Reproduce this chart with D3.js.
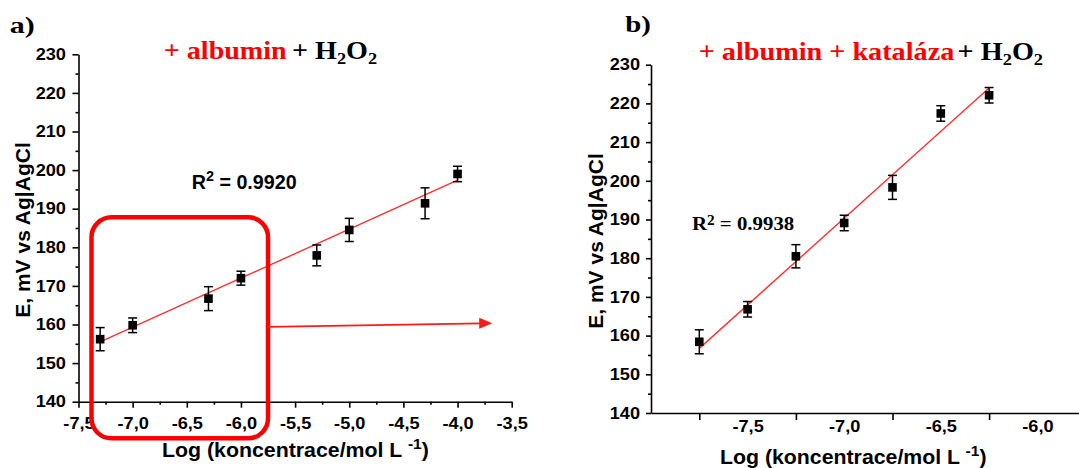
<!DOCTYPE html>
<html>
<head>
<meta charset="utf-8">
<script src="https://cdnjs.cloudflare.com/ajax/libs/d3/7.8.5/d3.min.js"></script>
<style>
  body { margin: 0; background: #fff; }
  svg { display: block; }
  .axis path, .axis line { stroke: #000; stroke-width: 1.6; }
  .axis text { font-family: "Liberation Sans", Arial, sans-serif; font-weight: bold; font-size: 16.5px; fill: #000; }
</style>
</head>
<body>
<div class="chart"></div>
<script>
// Panel a: albumin + H2O2
const concA = [-7.3, -7.0, -6.3, -6.0, -5.3, -5.0, -4.3, -4.0];
const potA = [156.2, 159.8, 166.7, 172.0, 177.9, 184.5, 191.4, 199.0];
const errA = [3.0, 1.9, 3.1, 1.8, 2.7, 3.0, 4.0, 2.0];
const fitConcA = [-7.3, -4.0];
const fitPotA = [155.5, 197.4];

// Panel b: albumin + kataláza + H2O2
const concB = [-7.75, -7.5, -7.25, -7.0, -6.75, -6.5, -6.25];
const potB = [158.4, 166.8, 180.5, 189.1, 198.3, 217.4, 222.1];
const errB = [3.1, 2.0, 3.0, 2.0, 3.1, 2.0, 2.0];
const fitConcB = [-7.75, -6.25];
const fitPotB = [156.7, 224.0];

// Tick values
const yTicks = [140, 150, 160, 170, 180, 190, 200, 210, 220, 230];
const yMinor = [145, 155, 165, 175, 185, 195, 205, 215, 225];
const xTicksA = [-7.5, -7.0, -6.5, -6.0, -5.5, -5.0, -4.5, -4.0, -3.5];
const xMinorA = [-7.25, -6.75, -6.25, -5.75, -5.25, -4.75, -4.25, -3.75];
const xTicksB = [-7.5, -7.0, -6.5, -6.0];
const xMarksB = [-7.75, -7.25, -6.75, -6.25];

// Highlight box and arrow in panel a (data units)
const boxConcA = [-7.38, -5.75];
const boxPotA = [130.5, 187.8];
const arrowConcA = [-5.75, -3.68];
const arrowPotA = [159.4, 160.3];

const W = 1079, H = 468;
const stretchK = 1.1;
const sans = '"Liberation Sans", Arial, sans-serif';
const serif = '"Liberation Serif", "Times New Roman", serif';

const fmtX = d3.formatLocale({ decimal: ",", thousands: "", grouping: [3], currency: ["", ""], minus: "-" }).format(".1f");

const svg = d3.select(".chart").append("svg")
  .attr("width", W)
  .attr("height", H)
  .attr("viewBox", `0 0 ${W} ${H}`);

svg.append("rect").attr("width", W).attr("height", H).attr("fill", "#fff");

// Scales
const xA = d3.scaleLinear().domain([-7.5, -3.5]).range([78.5, 511.7]);
const yA = d3.scaleLinear().domain([140, 230]).range([401.7, 54.3]);
const xB = d3.scaleLinear().domain([-8.0, -5.75]).range([651, 1085.7]);
const yB = d3.scaleLinear().domain([140, 230]).range([413, 64.7]);

// widen simple texts a bit, the original figure is stretched horizontally
function stretch(sel, k) {
  sel.each(function () {
    const w = this.getComputedTextLength();
    this.setAttribute("textLength", w * k);
    this.setAttribute("lengthAdjust", "spacingAndGlyphs");
  });
}

// put a composite text into a group and scale it to a given width
function fitGroup(g, x, y, width) {
  const w = g.select("text").node().getComputedTextLength();
  g.attr("transform", `translate(${x},${y}) scale(${width / w},1)`);
}

// ---------- Panel a axes ----------
const yAxisA = svg.append("g").attr("class", "axis")
  .attr("transform", `translate(${xA(-7.5)},0)`)
  .call(d3.axisLeft(yA).tickValues(yTicks).tickSize(6).tickPadding(6.6).tickSizeOuter(0).tickFormat(d3.format("d")));
svg.append("g").attr("class", "axis")
  .attr("transform", `translate(${xA(-7.5)},0)`)
  .call(d3.axisLeft(yA).tickValues(yMinor).tickSize(3).tickFormat(""))
  .select(".domain").remove();

const xAxisA = svg.append("g").attr("class", "axis")
  .attr("transform", `translate(0,${yA(140)})`)
  .call(d3.axisBottom(xA).tickValues(xTicksA).tickSize(6).tickPadding(10).tickSizeOuter(0).tickFormat(fmtX));
svg.append("g").attr("class", "axis")
  .attr("transform", `translate(0,${yA(140)})`)
  .call(d3.axisBottom(xA).tickValues(xMinorA).tickSize(3).tickFormat(""))
  .select(".domain").remove();

// ---------- Panel b axes ----------
const yAxisB = svg.append("g").attr("class", "axis")
  .attr("transform", `translate(${xB(-8)},0)`)
  .call(d3.axisLeft(yB).tickValues(yTicks).tickSize(5).tickPadding(6).tickSizeOuter(0).tickFormat(d3.format("d")));
svg.append("g").attr("class", "axis")
  .attr("transform", `translate(${xB(-8)},0)`)
  .call(d3.axisLeft(yB).tickValues(yMinor).tickSize(3).tickFormat(""))
  .select(".domain").remove();

const xAxisB = svg.append("g").attr("class", "axis")
  .attr("transform", `translate(0,${yB(140)})`)
  .call(d3.axisBottom(xB).tickValues(xTicksB).tickSize(0).tickPadding(7.7).tickSizeOuter(0).tickFormat(fmtX));
svg.append("g").attr("class", "axis")
  .attr("transform", `translate(0,${yB(140)})`)
  .call(d3.axisBottom(xB).tickValues(xMarksB).tickSize(7).tickFormat(""))
  .select(".domain").remove();

[yAxisA, xAxisA, yAxisB, xAxisB].forEach(ax => stretch(ax.selectAll("text"), stretchK));

// ---------- Axis titles ----------
function yTitle(x, y) {
  svg.append("text")
    .attr("transform", `translate(${x},${y}) rotate(-90)`)
    .attr("text-anchor", "middle")
    .attr("font-family", sans)
    .attr("font-weight", "bold")
    .attr("font-size", 21)
    .text("E, mV vs Ag|AgCl");
}
yTitle(30, 230);
yTitle(603, 241);

function xTitle(x, y, width) {
  const g = svg.append("g");
  const t = g.append("text")
    .attr("font-family", sans)
    .attr("font-weight", "bold")
    .attr("font-size", 20.5);
  t.append("tspan").text("Log (koncentrace/mol L ");
  t.append("tspan").attr("font-size", 15).attr("dy", -8).text("-1");
  t.append("tspan").attr("dy", 8).text(")");
  fitGroup(g, x, y, width);
}
xTitle(162, 457, 267);
xTitle(720, 464.3, 266.7);

// ---------- Fit lines, error bars and markers ----------
function drawSeries(xs, ys, conc, pot, err, fitX, fitY) {
  const line = d3.line().x(d => xs(d[0])).y(d => ys(d[1]));
  svg.append("path")
    .datum(d3.zip(fitX, fitY))
    .attr("fill", "none")
    .attr("stroke", "#ff3030")
    .attr("stroke-width", 1.4)
    .attr("d", line);

  const pts = conc.map((c, i) => ({ c, v: pot[i], e: err[i] }));
  const g = svg.append("g").attr("stroke", "#000").attr("stroke-width", 1.5);
  g.selectAll(".bar").data(pts).join("line")
    .attr("x1", d => xs(d.c)).attr("x2", d => xs(d.c))
    .attr("y1", d => ys(d.v - d.e)).attr("y2", d => ys(d.v + d.e));
  g.selectAll(".capTop").data(pts).join("line")
    .attr("x1", d => xs(d.c) - 4.5).attr("x2", d => xs(d.c) + 4.5)
    .attr("y1", d => ys(d.v + d.e)).attr("y2", d => ys(d.v + d.e));
  g.selectAll(".capBot").data(pts).join("line")
    .attr("x1", d => xs(d.c) - 4.5).attr("x2", d => xs(d.c) + 4.5)
    .attr("y1", d => ys(d.v - d.e)).attr("y2", d => ys(d.v - d.e));

  svg.append("g").selectAll("rect").data(pts).join("rect")
    .attr("x", d => xs(d.c) - 4.3)
    .attr("y", d => ys(d.v) - 4.3)
    .attr("width", 8.6)
    .attr("height", 8.6)
    .attr("fill", "#000");
}
drawSeries(xA, yA, concA, potA, errA, fitConcA, fitPotA);
drawSeries(xB, yB, concB, potB, errB, fitConcB, fitPotB);

// ---------- Highlight box and arrow ----------
svg.append("rect")
  .attr("x", xA(boxConcA[0]))
  .attr("y", yA(boxPotA[1]))
  .attr("width", xA(boxConcA[1]) - xA(boxConcA[0]))
  .attr("height", yA(boxPotA[0]) - yA(boxPotA[1]))
  .attr("rx", 20)
  .attr("fill", "none")
  .attr("stroke", "#ff0000")
  .attr("stroke-width", 4.5);

const ax0 = xA(arrowConcA[0]), ay0 = yA(arrowPotA[0]);
const ax1 = xA(arrowConcA[1]), ay1 = yA(arrowPotA[1]);
svg.append("line")
  .attr("x1", ax0).attr("y1", ay0)
  .attr("x2", ax1 - 11).attr("y2", ay1)
  .attr("stroke", "#ff1a1a")
  .attr("stroke-width", 1.8);
svg.append("path")
  .attr("d", `M${ax1},${ay1}L${ax1 - 13},${ay1 - 5.5}L${ax1 - 13},${ay1 + 5.5}Z`)
  .attr("fill", "#ff1a1a");

// ---------- R² labels ----------
function r2Label(x, y, width, family, size, supSize, supDy, value) {
  const g = svg.append("g");
  const t = g.append("text")
    .attr("font-family", family)
    .attr("font-weight", "bold")
    .attr("font-size", size);
  t.append("tspan").text("R");
  t.append("tspan").attr("font-size", supSize).attr("dy", supDy).text("2");
  t.append("tspan").attr("dy", -supDy).text(" = " + value);
  fitGroup(g, x, y, width);
}
r2Label(191.7, 189.3, 105, sans, 20.5, 15, -8.6, "0.9920");
r2Label(691.9, 230, 102.4, serif, 19, 14, -5, "0.9938");

// ---------- Titles ----------
function title(x, y, width, redText, gap) {
  const g = svg.append("g");
  const t = g.append("text")
    .attr("font-family", serif)
    .attr("font-weight", "bold")
    .attr("font-size", 26);
  t.append("tspan").attr("fill", "#ff0000").text(redText);
  t.append("tspan").attr("fill", "#000").attr("dx", gap).text("+ H");
  t.append("tspan").attr("font-size", 17).attr("dy", 5).text("2");
  t.append("tspan").attr("dy", -5).text("O");
  t.append("tspan").attr("font-size", 17).attr("dy", 5).text("2");
  fitGroup(g, x, y, width);
}
title(163.8, 59, 208, "+ albumin", 5);
title(698.7, 60, 341.3, "+ albumin + kataláza", 3);

// ---------- Panel letters ----------
function letter(x, y, width, txt) {
  const g = svg.append("g");
  g.append("text")
    .attr("font-family", serif)
    .attr("font-weight", "bold")
    .attr("font-size", 24)
    .text(txt);
  fitGroup(g, x, y, width);
}
letter(9.7, 33.3, 25, "a)");
letter(625.3, 31.7, 25.7, "b)");
</script>
</body>
</html>
